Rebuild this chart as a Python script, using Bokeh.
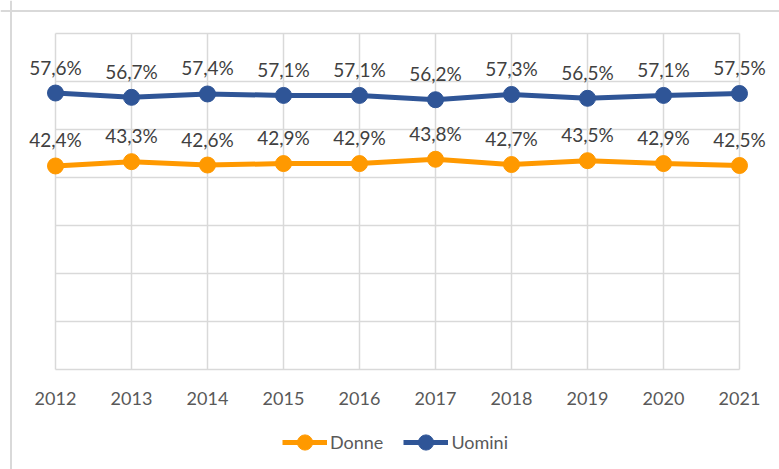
from bokeh.plotting import figure
from bokeh.models import ColumnDataSource, LabelSet, Legend, LegendItem, Range1d, Span
from bokeh.core.properties import value
from bokeh.embed import file_html
from bokeh.resources import INLINE

years = [2012, 2013, 2014, 2015, 2016, 2017, 2018, 2019, 2020, 2021]
donne = [42.4, 43.3, 42.6, 42.9, 42.9, 43.8, 42.7, 43.5, 42.9, 42.5]
uomini = [57.6, 56.7, 57.4, 57.1, 57.1, 56.2, 57.3, 56.5, 57.1, 57.5]
y_ticks = [0, 10, 20, 30, 40, 50, 60, 70]
year_labels = [str(y) for y in years]

ORANGE = "#FF9900"
BLUE = "#2F5597"
GRID = "#D9D9D9"
FONT = "Lato"

# layout (picture pixels); figure occupies (0, 0) .. (779, 469)
W, H = 779, 469
CAN_L, CAN_T = 0, 0
CAN_R, CAN_B = CAN_L + W, CAN_T + H
PLOT_L, PLOT_R, PLOT_T, PLOT_B = 55, 739, 33, 369
BORDER = 10.5

def fmt(v):
    return f"{v:.1f}".replace(".", ",") + "%"

x0, x1 = years[0], years[-1]
ppx = (PLOT_R - PLOT_L) / (x1 - x0)
y0, y1 = y_ticks[0], y_ticks[-1]
ppy = (PLOT_B - PLOT_T) / (y1 - y0)
xr = Range1d(x0 - (PLOT_L - CAN_L) / ppx, x1 + (CAN_R - PLOT_R) / ppx)
yr = Range1d(y0 - (CAN_B - PLOT_B) / ppy, y1 + (PLOT_T - CAN_T) / ppy)

src_d = ColumnDataSource(dict(x=years, y=donne, lab=[fmt(v) for v in donne]))
src_u = ColumnDataSource(dict(x=years, y=uomini, lab=[fmt(v) for v in uomini]))
src_yr = ColumnDataSource(dict(x=years, y=[y0] * len(years), lab=year_labels))

p = figure(width=W, height=H, output_backend="svg", toolbar_location=None,
           x_range=xr, y_range=yr,
           min_border_left=0, min_border_right=0, min_border_top=0, min_border_bottom=0)
p.outline_line_color = None
p.xgrid.visible = False
p.ygrid.visible = False
p.xaxis.visible = False
p.yaxis.visible = False

# chart border (left and top edges of the chart box)
p.add_layout(Span(location=x0 - (PLOT_L - BORDER) / ppx, dimension="height",
                  line_color=GRID, line_width=2))
p.add_layout(Span(location=y1 + (PLOT_T - BORDER) / ppy, dimension="width",
                  line_color=GRID, line_width=2))

# grid drawn from the tick arrays
p.segment(x0=years, y0=[y0] * len(years), x1=years, y1=[y1] * len(years),
          line_color=GRID, line_width=1.5)
p.segment(x0=[x0] * len(y_ticks), y0=y_ticks, x1=[x1] * len(y_ticks), y1=y_ticks,
          line_color=GRID, line_width=1.5)

# category (year) labels
p.add_layout(LabelSet(x="x", y="y", text="lab", source=src_yr, y_offset=-29,
                      text_align="center", text_baseline="middle",
                      text_font=value(FONT), text_font_size=value("18px"),
                      text_color="#595959"))

ld = p.line("x", "y", source=src_d, line_color=ORANGE, line_width=5)
sd = p.scatter("x", "y", source=src_d, size=16, fill_color=ORANGE, line_color=ORANGE)
lu = p.line("x", "y", source=src_u, line_color=BLUE, line_width=5)
su = p.scatter("x", "y", source=src_u, size=16, fill_color=BLUE, line_color=BLUE)

for src in (src_d, src_u):
    p.add_layout(LabelSet(x="x", y="y", text="lab", source=src, y_offset=26,
                          text_align="center", text_baseline="middle",
                          text_font=value(FONT), text_font_size=value("19px"),
                          text_color="#404040"))

legend = Legend(items=[LegendItem(label="Donne", renderers=[ld, sd]),
                       LegendItem(label="Uomini", renderers=[lu, su])],
                orientation="horizontal", location=(282 - CAN_L, CAN_B - 461),
                glyph_width=45, glyph_height=38, label_standoff=3, spacing=20,
                padding=0, margin=0, border_line_color=None, background_fill_alpha=0,
                label_text_font=FONT, label_text_font_size="18px", label_text_color="#595959")
p.add_layout(legend, "center")

open("out.html", "w").write(file_html(p, INLINE))
